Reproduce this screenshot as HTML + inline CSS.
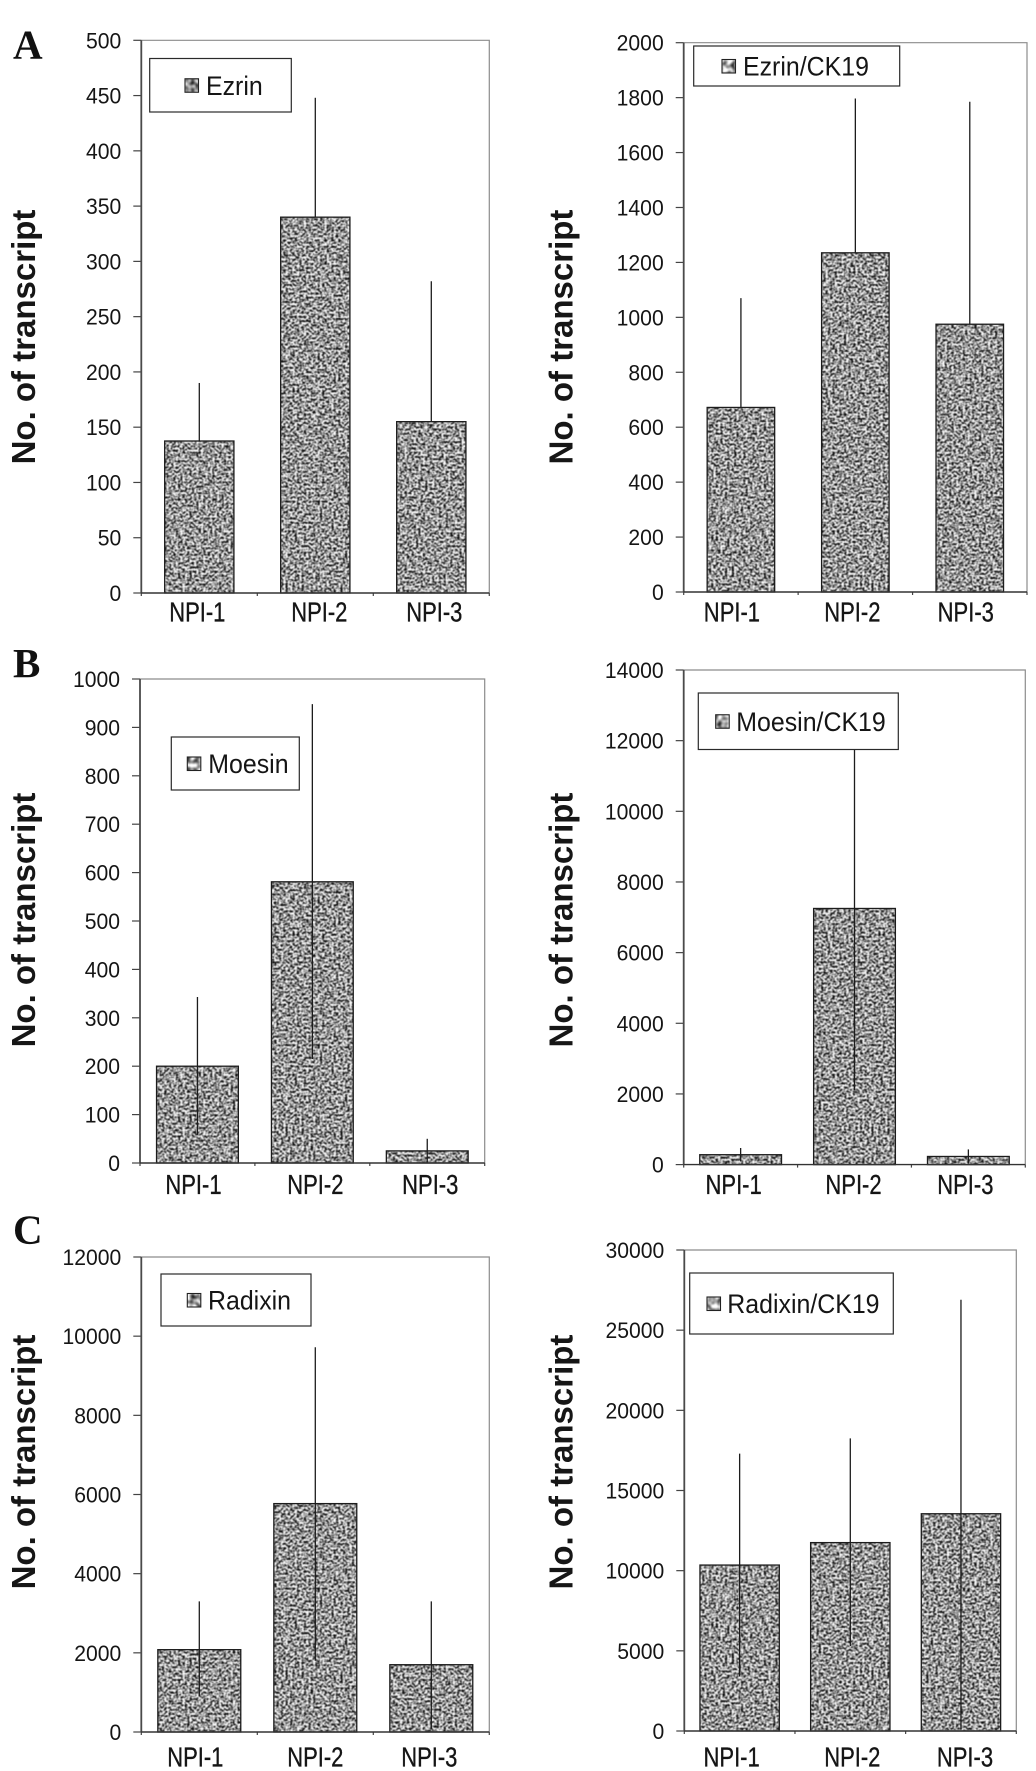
<!DOCTYPE html>
<html lang="en">
<head>
<meta charset="utf-8">
<title>Transcript counts by NPI group</title>
<style>
html,body{margin:0;padding:0;background:#fff;}
#figure{display:block;width:1036px;height:1771px;}
text{font-family:"Liberation Sans",Arial,sans-serif;fill:#151515;}
.panel-letter{font-family:"Liberation Serif","Times New Roman",serif;font-weight:700;font-size:41px;fill:#111;}
.y-title{font-weight:700;font-size:33px;fill:#161616;}
.tick{font-size:22.5px;}
.cat{font-size:27.5px;stroke:#151515;stroke-width:0.35px;}
.legend-text{font-size:26.5px;}
</style>
</head>
<body>
<svg id="figure" xmlns="http://www.w3.org/2000/svg" width="1036" height="1771" viewBox="0 0 1036 1771">
  <defs>
    <filter id="speckle" x="0" y="0" width="100%" height="100%" color-interpolation-filters="sRGB">
      <feTurbulence type="fractalNoise" baseFrequency="0.437 0.471" numOctaves="3" seed="11"/>
      <feColorMatrix type="matrix" values="3.3 0 0 0 -1.05  3.3 0 0 0 -1.05  3.3 0 0 0 -1.05  0 0 0 0 1"/>
      <feGaussianBlur stdDeviation="0.45"/>
    </filter>
    <filter id="speckle-small" x="0" y="0" width="100%" height="100%" color-interpolation-filters="sRGB">
      <feTurbulence type="fractalNoise" baseFrequency="0.22" numOctaves="1" seed="3"/>
      <feColorMatrix type="matrix" values="2 0 0 0 -0.35  2 0 0 0 -0.35  2 0 0 0 -0.35  0 0 0 0 1"/>
      <feGaussianBlur stdDeviation="0.5"/>
    </filter>
  </defs>
  <rect x="0" y="0" width="1036" height="1771" fill="#fff"/>
  <text class="panel-letter" x="13" y="58.5">A</text>
  <text class="panel-letter" x="13" y="677">B</text>
  <text class="panel-letter" x="13" y="1243.7">C</text>
  <g id="charts"></g>
</svg>
<script>
const categories = ["NPI-1", "NPI-2", "NPI-3"];

const ezrinTicks = [0, 50, 100, 150, 200, 250, 300, 350, 400, 450, 500];
const ezrinMeans = [137.5, 340, 155];
const ezrinUpper = [190, 448, 282];
const ezrinLower = [137.5, 340, 155];

const ezrinCk19Ticks = [0, 200, 400, 600, 800, 1000, 1200, 1400, 1600, 1800, 2000];
const ezrinCk19Means = [672, 1235, 975];
const ezrinCk19Upper = [1070, 1797, 1785];
const ezrinCk19Lower = [672, 1235, 975];

const moesinTicks = [0, 100, 200, 300, 400, 500, 600, 700, 800, 900, 1000];
const moesinMeans = [200, 581, 25];
const moesinUpper = [343, 948, 50];
const moesinLower = [58, 215, 0];

const moesinCk19Ticks = [0, 2000, 4000, 6000, 8000, 10000, 12000, 14000];
const moesinCk19Means = [280, 7250, 230];
const moesinCk19Upper = [470, 12400, 430];
const moesinCk19Lower = [90, 2100, 30];

const radixinTicks = [0, 2000, 4000, 6000, 8000, 10000, 12000];
const radixinMeans = [2080, 5770, 1700];
const radixinUpper = [3300, 9720, 3300];
const radixinLower = [900, 1800, 80];

const radixinCk19Ticks = [0, 5000, 10000, 15000, 20000, 25000, 30000];
const radixinCk19Means = [10350, 11750, 13550];
const radixinCk19Upper = [17300, 18250, 26900];
const radixinCk19Lower = [3400, 5300, 100];

const panels = [
  {key:"ezrin", label:"Ezrin", ticks:ezrinTicks, means:ezrinMeans, upper:ezrinUpper, lower:ezrinLower,
   left:141.3, right:489.3, top:40.3, bottom:593, barFrac:0.597, titleX:35, titleY:337, catY:621.7, catDx:[-2,4,3],
   box:{x:149.7,y:58.5,w:141.6,h:53.5,sx:185,tx:206}},
  {key:"ezrin-ck19", label:"Ezrin/CK19", ticks:ezrinCk19Ticks, means:ezrinCk19Means, upper:ezrinCk19Upper, lower:ezrinCk19Lower,
   left:683.7, right:1027, top:42.7, bottom:592, barFrac:0.59, titleX:572.3, titleY:337, catY:621.7, catDx:[-9,-3,-4],
   box:{x:693.7,y:46,w:206,h:40,sx:722,tx:743}},
  {key:"moesin", label:"Moesin", ticks:moesinTicks, means:moesinMeans, upper:moesinUpper, lower:moesinLower,
   left:140, right:484.7, top:679, bottom:1163, barFrac:0.712, titleX:35, titleY:920, catY:1194, catDx:[-4,3,3],
   box:{x:171.3,y:737,w:128,h:53,sx:187.3,tx:208.3}},
  {key:"moesin-ck19", label:"Moesin/CK19", ticks:moesinCk19Ticks, means:moesinCk19Means, upper:moesinCk19Upper, lower:moesinCk19Lower,
   left:683.7, right:1025.3, top:670, bottom:1164.6, barFrac:0.718, titleX:572.3, titleY:920, catY:1194, catDx:[-7,-1,-3],
   box:{x:698.3,y:693,w:200,h:56.5,sx:715.7,tx:736.3}},
  {key:"radixin", label:"Radixin", ticks:radixinTicks, means:radixinMeans, upper:radixinUpper, lower:radixinLower,
   left:141.3, right:489.3, top:1257, bottom:1732, barFrac:0.715, titleX:35, titleY:1462, catY:1766.7, catDx:[-4,0,-2],
   box:{x:161,y:1274,w:150,h:52,sx:187.3,tx:208}},
  {key:"radixin-ck19", label:"Radixin/CK19", ticks:radixinCk19Ticks, means:radixinCk19Means, upper:radixinCk19Upper, lower:radixinCk19Lower,
   left:684.3, right:1016.3, top:1250, bottom:1731, barFrac:0.717, titleX:572.3, titleY:1462, catY:1766.7, catDx:[-8,2,4],
   box:{x:689.7,y:1273,w:203.6,h:61,sx:707,tx:727.3}}
];

const SVG_NS = "http://www.w3.org/2000/svg";
const root = document.getElementById("charts");

function make(tag, attrs, parent, content) {
  const node = document.createElementNS(SVG_NS, tag);
  Object.keys(attrs).forEach(function (k) { node.setAttribute(k, attrs[k]); });
  if (content !== undefined) node.textContent = content;
  parent.appendChild(node);
  return node;
}

function squeeze(x, y, sx) {
  return "translate(" + x + " " + y + ") scale(" + sx + " 1)";
}

panels.forEach(function (p) {
  const yMax = p.ticks[p.ticks.length - 1];
  const yScale = function (v) { return p.bottom - (v / yMax) * (p.bottom - p.top); };
  const band = (p.right - p.left) / categories.length;
  const xScale = function (i) { return p.left + (i + 0.5) * band; };
  const barW = band * p.barFrac;

  const g = make("g", {}, root);
  
  

  const frame = make("path", {
    d: "M" + p.left + " " + p.top + "H" + p.right + "V" + p.bottom,
    fill: "none", stroke: "#8c8c8c", "stroke-width": 1.2
  }, g);
  
  

  p.ticks.forEach(function (t) {
    const y = yScale(t);
    const mark = make("line", {x1: p.left - 8, x2: p.left, y1: y, y2: y, stroke: "#444", "stroke-width": 1.2}, g);
    
    
    const lab = make("text", {class: "tick", "text-anchor": "end", transform: squeeze(p.left - 20, y + 8, 0.94)}, g, String(t));
    
    
  });

  categories.forEach(function (c, i) {
    const cx = xScale(i);
    const top = yScale(p.means[i]);
    const fillRect = make("rect", {x: cx - barW / 2, y: top, width: barW, height: p.bottom - top, filter: "url(#speckle)"}, g);
    
    
    const outline = make("rect", {x: cx - barW / 2, y: top, width: barW, height: p.bottom - top, fill: "none", stroke: "#1c1c1c", "stroke-width": 1.3}, g);
    
    
    const err = make("line", {x1: cx, x2: cx, y1: yScale(p.upper[i]), y2: yScale(p.lower[i]), stroke: "#1c1c1c", "stroke-width": 1.3}, g);
    
    
    const cat = make("text", {class: "cat", "text-anchor": "middle", transform: squeeze(cx + p.catDx[i], p.catY, 0.8)}, g, c);
    
    
  });

  for (let i = 0; i <= categories.length; i++) {
    const x = p.left + i * band;
    const xt = make("line", {x1: x, x2: x, y1: p.bottom, y2: p.bottom + 3, stroke: "#444", "stroke-width": 1.2}, g);
    
    
  }

  const axisY = make("line", {x1: p.left, x2: p.left, y1: p.top, y2: p.bottom, stroke: "#4a4a4a", "stroke-width": 1.8}, g);
  
  
  const axisX = make("line", {x1: p.left, x2: p.right, y1: p.bottom, y2: p.bottom, stroke: "#333", "stroke-width": 1.4}, g);
  
  

  const title = make("text", {class: "y-title", x: p.titleX, y: p.titleY, "text-anchor": "middle",
    transform: "rotate(-90 " + p.titleX + " " + p.titleY + ")"}, g, "No. of transcript");
  
  

  const b = p.box;
  const legend = make("g", {}, g);
  
  
  const lbox = make("rect", {x: b.x, y: b.y, width: b.w, height: b.h, fill: "#fff", stroke: "#2a2a2a", "stroke-width": 1.2}, legend);
  
  
  const midY = b.y + b.h / 2;
  const swatch = make("rect", {x: b.sx, y: midY - 6.5, width: 13.5, height: 13.5, filter: "url(#speckle-small)"}, legend);
  
  
  const swatchEdge = make("rect", {x: b.sx, y: midY - 6.5, width: 13.5, height: 13.5, fill: "none", stroke: "#222", "stroke-width": 1.1}, legend);
  
  
  const ltext = make("text", {class: "legend-text", transform: squeeze(b.tx, midY + 9.5, 0.94)}, legend, p.label);
  
  
});
</script>
</body>
</html>
